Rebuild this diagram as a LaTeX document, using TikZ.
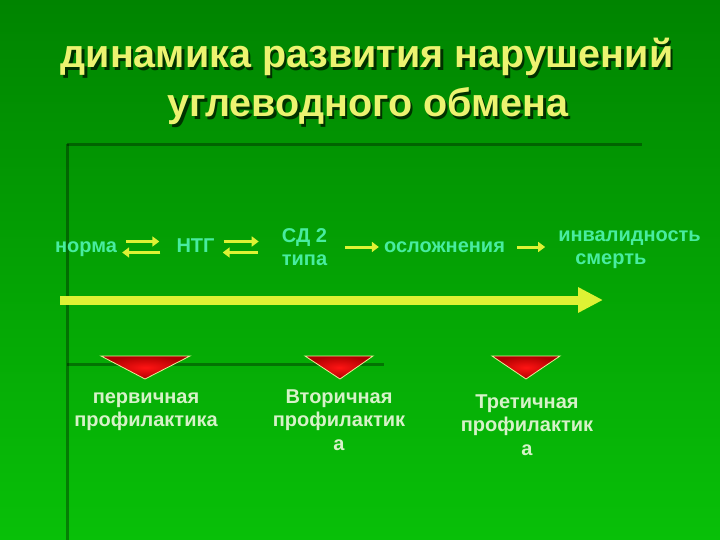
\documentclass[tikz,border=0pt]{standalone}
\usepackage{fontspec}
\setmainfont{Liberation Sans}
\usetikzlibrary{arrows.meta}
\definecolor{bgtop}{RGB}{0,132,0}
\definecolor{bgbot}{RGB}{8,192,8}
\definecolor{titley}{RGB}{236,243,112}
\definecolor{aqua}{RGB}{72,236,160}
\definecolor{arry}{RGB}{222,242,52}
\definecolor{lbl}{RGB}{214,242,200}
\definecolor{trin}{RGB}{255,20,20}
\definecolor{trout}{RGB}{175,0,0}
\definecolor{triedge}{RGB}{232,240,150}
\tikzset{
  titletxt/.style={anchor=base, inner sep=0pt, text=titley, font=\bfseries\fontsize{39.5}{39.5}\selectfont},
  titleshadow/.style={anchor=base, inner sep=0pt, text=black, text opacity=0.65, font=\bfseries\fontsize{39.5}{39.5}\selectfont},
  rowtxt/.style={inner sep=0pt, text=aqua, text height=14pt, text depth=4pt, font=\bfseries\fontsize{20}{23}\selectfont},
  rowtwo/.style={anchor=base, inner sep=0pt, text=aqua, font=\bfseries\fontsize{20}{23}\selectfont},
  lbltxt/.style={anchor=base, inner sep=0pt, align=center, text=lbl, font=\bfseries\fontsize{20}{23.5}\selectfont},
  sarrow/.style={draw=arry, line width=3pt, -{Triangle[length=7pt,width=10pt]}},
  bigarrow/.style={draw=arry, line width=9pt, -{Triangle[length=25pt,width=24pt]}},
  darkline/.style={draw=black, draw opacity=0.33, line width=3pt},
  tri/.style={inner color=trin, outer color=trout, draw=triedge, line width=0.8pt, line join=miter}
}
\begin{document}
\begin{tikzpicture}[x=1pt,y=-1pt]
\shade[top color=bgtop, bottom color=bgbot] (0,0) rectangle (720,540);
\useasboundingbox (0,0) rectangle (720,540);
% dark frame lines
\draw[darkline] (67,144) -- (67,540);
\draw[darkline] (67,145) -- (642,145);
\draw[darkline] (67,364) -- (384,364);
% title
\node[titleshadow] (t1s) at (369.5,70.5) {динамика развития нарушений};
\node[titletxt] (t1) at (367,68) {динамика развития нарушений};
\node[titleshadow] (t2s) at (370.5,119.5) {углеводного обмена};
\node[titletxt] (t2) at (368,117) {углеводного обмена};
% row of stages
\node[rowtxt] (norma) at (86,247) {норма};
\node[rowtxt] (ntg) at (195.5,247) {НТГ};
\node[rowtwo, align=center] (sd) at (304.5,265) {СД 2\\типа};
\node[rowtxt] (osl) at (444.5,247) {осложнения};
\node[rowtwo, align=left] (inv) at (629.5,264.5) {инвалидность\\\hspace*{17pt}смерть};
% small arrows
\draw[sarrow] ([shift={(9,-5.5)}]norma.east) -- ([shift={(-17,-5.5)}]ntg.west);
\draw[sarrow] ([shift={(-16,5.5)}]ntg.west) -- ([shift={(5,5.5)}]norma.east);
\draw[sarrow] ([shift={(9,-5.5)}]ntg.east) -- ([shift={(44,-5.5)}]ntg.east);
\draw[sarrow] ([shift={(43,5.5)}]ntg.east) -- ([shift={(8,5.5)}]ntg.east);
\draw[sarrow] ([shift={(-39,0)}]osl.west) -- ([shift={(-5,0)}]osl.west);
\draw[sarrow] ([shift={(12,0)}]osl.east) -- ([shift={(40,0)}]osl.east);
% timeline arrow
\coordinate (tl0) at (60,300);
\coordinate (tl1) at (603,300);
\draw[bigarrow] (tl0) -- (tl1);
% triangles
\shade[tri] (101,356) -- (190,356) -- (145,379) -- cycle;
\shade[tri] (305,356) -- (373,356) -- (340,379) -- cycle;
\shade[tri] (492,356) -- (560,356) -- (526,379) -- cycle;
% labels
\node[lbltxt] (p1) at (146,426.5) {первичная\\профилактика};
\node[lbltxt] (p2) at (339,450) {Вторичная\\профилактик\\а};
\node[lbltxt] (p3) at (527,455) {Третичная\\профилактик\\а};
\end{tikzpicture}
\end{document}
